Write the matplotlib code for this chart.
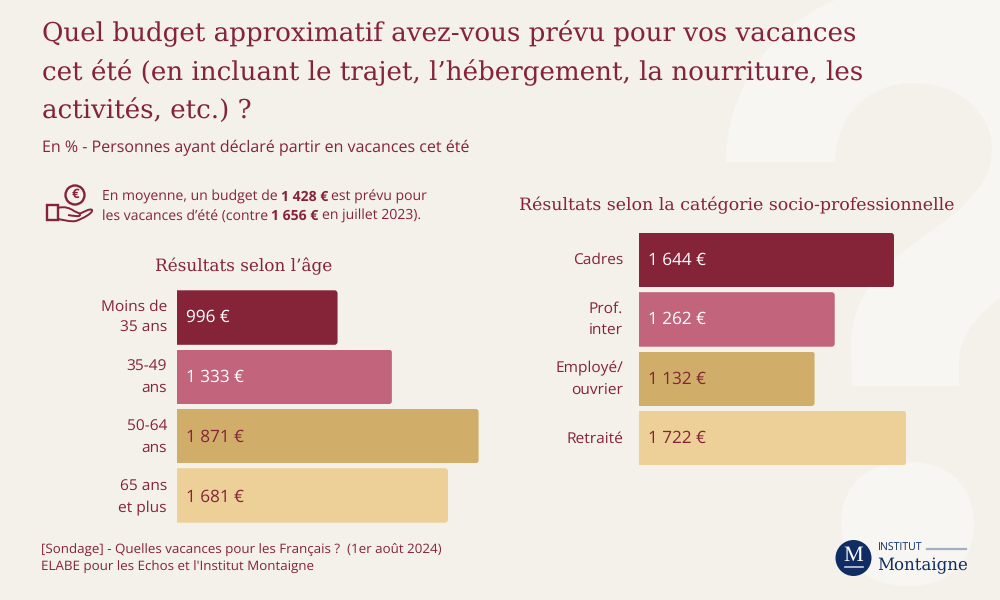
import matplotlib
matplotlib.use("Agg")
import matplotlib.pyplot as plt
from matplotlib.patches import FancyBboxPatch, PathPatch, Circle, Rectangle
from matplotlib.path import Path

plt.rcParams["text.hinting"] = "no_hinting"
plt.rcParams["text.hinting_factor"] = 8

age_labels = ["Moins de\n35 ans", "35-49\nans", "50-64\nans", "65 ans\net plus"]
age_values = [996, 1333, 1871, 1681]
csp_labels = ["Cadres", "Prof.\ninter", "Employé/\nouvrier", "Retraité"]
csp_values = [1644, 1262, 1132, 1722]
colors = ["#852338", "#c1647c", "#d0ae6a", "#ecd097"]
value_colors = ["#ffffff", "#ffffff", "#852338", "#852338"]

BG = "#f4f1eb"
SHAPE = "#f8f6f2"
RED = "#852338"
NAVY = "#0f2d63"
SERIF = "DejaVu Serif"
SANS = "Open Sans"

W, H = 1000, 600
fig = plt.figure(figsize=(10, 6), dpi=100, facecolor=BG)
bgax = fig.add_axes([0, 0, 1, 1])
bgax.set_xlim(0, W)
bgax.set_ylim(H, 0)
bgax.axis("off")


def put(x, y, s, **kw):
    kw.setdefault("color", RED)
    kw.setdefault("family", SANS)
    kw.setdefault("va", "center")
    return bgax.text(x, y, s, **kw)


# large pale question mark behind the content
M, C, L, Z = Path.MOVETO, Path.CURVE4, Path.LINETO, Path.CLOSEPOLY
q = Path(
    [(835, 0), (765, 30), (726, 95), (726, 162),
     (835, 162),
     (835, 115), (870, 83), (913, 83),
     (958, 83), (992, 112), (992, 150),
     (992, 185), (960, 210), (933, 230),
     (890, 260), (851, 290), (851, 345),
     (852, 386), (959, 386), (959, 362),
     (959, 335), (980, 312), (1000, 298),
     (1000, 0), (835, 0), (835, 0)],
    [M, C, C, C, L, C, C, C, C, C, C, C, C, C, C, C, C, L, L, L, C, C, C, L, L, Z])
bgax.add_patch(PathPatch(q, fc=SHAPE, ec="none"))
dot = Path(
    [(841, 524), (841, 486), (866, 462), (907.5, 462),
     (949, 462), (974, 486), (974, 524),
     (974, 562), (949, 586), (907.5, 586),
     (866, 586), (841, 562), (841, 524), (841, 524)],
    [M, C, C, C, C, C, C, C, C, C, C, C, C, Z])
bgax.add_patch(PathPatch(dot, fc=SHAPE, ec="none"))

# title block
for y, line in zip([41.7, 80, 118], [
        "Quel budget approximatif avez-vous prévu pour vos vacances",
        "cet été (en incluant le trajet, l’hébergement, la nourriture, les",
        "activités, etc.) ?"]):
    put(42, y, line, family=SERIF, fontsize=18.85, va="baseline")
put(42, 147.5, "En % - Personnes ayant déclaré partir en vacances cet été", fontsize=11.56)


# average note: mixed weights placed one run after the other
def runs(x, y, parts):
    rend = fig.canvas.get_renderer()
    for s, weight in parts:
        t = put(x, y, s, fontsize=10.1, fontweight=weight)
        x = bgax.transData.inverted().transform(t.get_window_extent(rend).get_points())[1, 0] + 3.2


runs(102, 197.2, [("En moyenne, un budget de", "normal"), ("1 428 €", "bold"), ("est prévu pour", "normal")])
runs(102, 216.2, [("les vacances d’été (contre", "normal"), ("1 656 €", "bold"), ("en juillet 2023).", "normal")])

# hand and coin icon
bgax.add_patch(Circle((75, 195), 9.5, fc="none", ec=RED, lw=1.7))
put(75, 195, "€", fontsize=9.5, fontweight="bold", ha="center")
bgax.add_patch(Rectangle((47, 205), 11, 15, fc="none", ec=RED, lw=1.7))
hand = Path(
    [(58, 208), (64, 206), (70, 208), (74, 211),
     (78, 213), (80, 213), (80, 215),
     (80, 217), (74, 216), (68, 215)],
    [M, C, C, C, C, C, C, C, C, C])
bgax.add_patch(PathPatch(hand, fc="none", ec=RED, lw=1.4))
palm = Path(
    [(79, 214), (84, 212), (90, 208), (92, 210),
     (93, 213), (84, 218), (76, 221),
     (70, 222), (64, 220), (58, 219)],
    [M, C, C, C, C, C, C, C, C, C])
bgax.add_patch(PathPatch(palm, fc="none", ec=RED, lw=1.4))

put(244, 271, "Résultats selon l’âge", family=SERIF, fontsize=12.2, ha="center", va="baseline")
put(736.5, 210, "Résultats selon la catégorie socio-professionnelle", family=SERIF,
    fontsize=12.5, ha="center", va="baseline")


def panel(left, top, px_per_unit, width_px, labels, values, label_gap, text_pitch):
    pitch, bar_px = 59.3, 54.5
    height_px = pitch * len(values)
    ax = fig.add_axes([left / W, 1 - (top + height_px) / H, width_px / W, height_px / H])
    ax.patch.set_alpha(0)
    ax.set_xlim(0, width_px / px_per_unit)
    ax.set_ylim(len(values) - 0.5, -0.5)
    ax.axis("off")
    bars = ax.barh(range(len(values)), values, height=bar_px / pitch, color=colors)
    r_x = 3 / px_per_unit
    aspect = (3 / pitch) / r_x
    for i, (bar, v) in enumerate(zip(bars, values)):
        clip = FancyBboxPatch((-50, i - bar_px / pitch / 2), v + 50, bar_px / pitch,
                              boxstyle=f"round,pad=0,rounding_size={r_x}",
                              mutation_aspect=aspect, transform=ax.transData)
        bar.set_clip_path(clip)
        y = i * text_pitch / pitch
        ax.text(8.6 / px_per_unit, y, f"{v:,} €".replace(",", " "), color=value_colors[i],
                family=SANS, fontsize=12.3, va="center", ha="left")
        ax.text(-label_gap / px_per_unit, y, labels[i], color=RED, family=SANS, fontsize=11.15,
                va="center", ha="right", linespacing=1.5, clip_on=False)
    return ax


panel(177, 287.9, 0.1612, 310, age_labels, age_values, 10, 59.9)
panel(639, 230.5, 0.1551, 280, csp_labels, csp_values, 16, 59.5)

# source
put(41, 550, "[Sondage] - Quelles vacances pour les Français ?  (1er août 2024)", fontsize=9.64)
put(41, 567, "ELABE pour les Echos et l'Institut Montaigne", fontsize=9.64)

# logo
bgax.add_patch(Circle((853.5, 558), 18, fc=NAVY, ec="none"))
put(853.5, 555.5, "M", family="Liberation Serif", fontsize=16, color="white", ha="center")
bgax.plot([844.5, 863], [566.5, 566.5], color="#c9d0de", lw=1.2)
put(878, 548.5, "INSTITUT", fontsize=7.6, color=NAVY)
bgax.plot([927, 966], [549, 549], color="#a3aec5", lw=1.6)
put(877, 570, "Montaigne", family=SERIF, fontsize=12.0, color=NAVY, va="baseline")

fig.savefig("out.png", dpi=100, facecolor=BG)
